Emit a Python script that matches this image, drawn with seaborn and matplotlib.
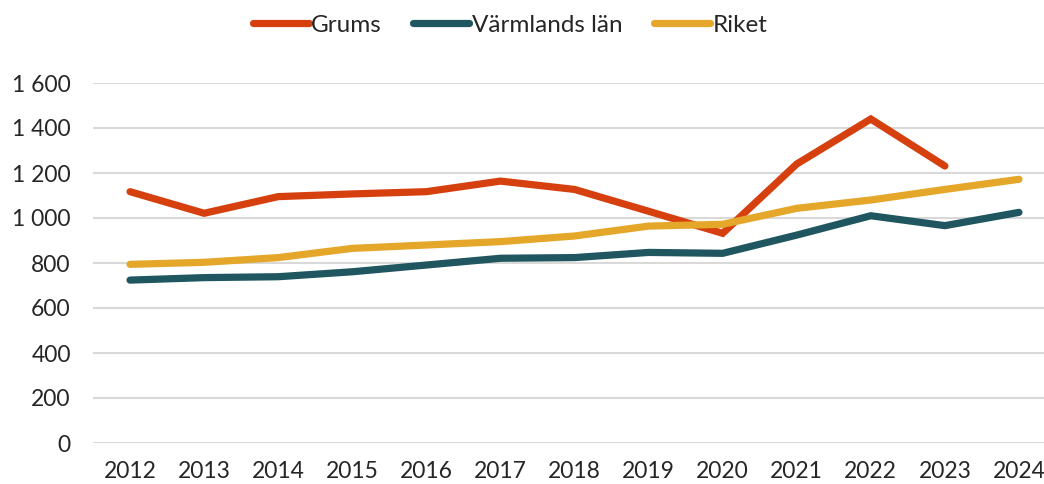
import numpy as np
import pandas as pd
import seaborn as sns
import matplotlib
matplotlib.use("Agg")
import matplotlib.pyplot as plt
from matplotlib.ticker import FuncFormatter

years = ["2012", "2013", "2014", "2015", "2016", "2017", "2018",
         "2019", "2020", "2021", "2022", "2023", "2024"]
grums = [1117, 1021, 1095, 1107, 1117, 1164, 1127, 1030, 932, 1240, 1440, 1231, np.nan]
varmland = [724, 735, 739, 761, 791, 821, 824, 847, 843, 924, 1010, 966, 1025]
riket = [794, 803, 824, 865, 880, 895, 920, 964, 972, 1043, 1080, 1127, 1172]
series_names = ["Grums", "Värmlands län", "Riket"]
colors = ["#D6400E", "#1F5660", "#E5A72A"]
y_ticks = [0, 200, 400, 600, 800, 1000, 1200, 1400, 1600]

df = pd.DataFrame({
    "År": years * 3,
    "Värde": grums + varmland + riket,
    "Serie": [series_names[0]] * 13 + [series_names[1]] * 13 + [series_names[2]] * 13,
})

sns.set_theme(style="white")
plt.rcParams["font.family"] = ["Lato", "DejaVu Sans"]

fig = plt.figure(figsize=(10.44, 4.84), dpi=100)
ax = fig.add_axes([93 / 1044, 41 / 484, 963 / 1044, 360 / 484])

sns.lineplot(data=df, x="År", y="Värde", hue="Serie", palette=colors,
             linewidth=5.2, ax=ax, sort=False, legend=True)
for ln in ax.lines:
    ln.set_solid_capstyle("round")
    ln.set_solid_joinstyle("miter")
    ln.set_clip_on(False)

ax.set_xlim(-0.5, 12.5)
ax.set_ylim(0, 1600)
ax.set_yticks(y_ticks)
ax.yaxis.set_major_formatter(FuncFormatter(lambda v, p: f"{int(v):,}".replace(",", " ")))
ax.grid(axis="y", color="#D9D9D9", linewidth=1.5)
ax.grid(axis="x", visible=False)
for s in ax.spines.values():
    s.set_visible(False)
ax.set_xlabel("")
ax.set_ylabel("")
ax.tick_params(axis="both", length=0, labelsize=16.5, colors="#262626")
ax.tick_params(axis="y", pad=16)
ax.tick_params(axis="x", pad=13)

handles, labels = ax.get_legend_handles_labels()
for h in handles:
    h.set_solid_capstyle("round")
    h.set_linewidth(5.2)
leg = ax.legend(handles, labels, loc="center", bbox_to_anchor=(417 / 963, (484 - 25 - 41) / 360),
                bbox_transform=ax.transAxes, ncol=3, frameon=False, fontsize=17.5,
                handlelength=2.3, handletextpad=0.1, columnspacing=1.3)
for t in leg.get_texts():
    t.set_color("#262626")

fig.savefig("out.png", dpi=100)
